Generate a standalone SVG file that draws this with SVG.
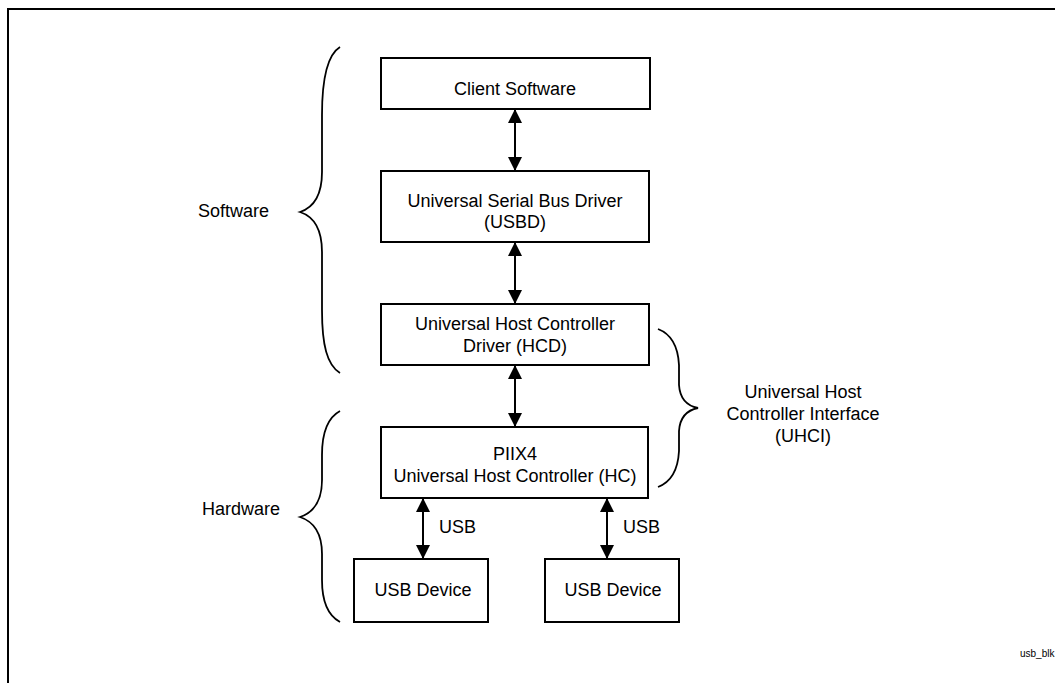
<svg xmlns="http://www.w3.org/2000/svg" width="1055" height="683" viewBox="0 0 1055 683">
<style>
.box{fill:#fff;stroke:#000;stroke-width:2}
.t{font-family:"Liberation Sans",Arial,sans-serif;font-size:18px;fill:#000;text-anchor:middle}
.ts{font-family:"Liberation Sans",Arial,sans-serif;font-size:18px;fill:#000}
.conn{stroke:#000;stroke-width:2;fill:none}
.brace{stroke:#000;stroke-width:1.8;fill:none}
</style>
<defs>
<marker id="ah" viewBox="0 0 14 14" refX="14" refY="7" markerWidth="14" markerHeight="14" markerUnits="userSpaceOnUse" orient="auto-start-reverse">
<path d="M0,0 L14,7 L0,14 z" fill="#000"/>
</marker>
</defs>
<rect width="1055" height="683" fill="#fff"/>
<path d="M8,683 V9 H1055" fill="none" stroke="#000" stroke-width="2"/>
<g id="connectors">
<line class="conn" x1="515" y1="109" x2="515" y2="171" marker-start="url(#ah)" marker-end="url(#ah)"/>
<line class="conn" x1="515" y1="242" x2="515" y2="304" marker-start="url(#ah)" marker-end="url(#ah)"/>
<line class="conn" x1="515" y1="365" x2="515" y2="427" marker-start="url(#ah)" marker-end="url(#ah)"/>
<line class="conn" x1="423" y1="498" x2="423" y2="559" marker-start="url(#ah)" marker-end="url(#ah)"/>
<line class="conn" x1="607" y1="498" x2="607" y2="559" marker-start="url(#ah)" marker-end="url(#ah)"/>
<text class="ts" x="439" y="533">USB</text>
<text class="ts" x="623" y="533">USB</text>
</g>
<g id="client">
<rect class="box" x="381" y="58" width="269" height="51"/>
<text class="t" x="515" y="95">Client Software</text>
</g>
<g id="usbd">
<rect class="box" x="381" y="171" width="268" height="71"/>
<text class="t" x="515" y="207">Universal Serial Bus Driver</text>
<text class="t" x="515" y="228">(USBD)</text>
</g>
<g id="hcd">
<rect class="box" x="381" y="304" width="268" height="61"/>
<text class="t" x="515" y="330">Universal Host Controller</text>
<text class="t" x="515" y="352">Driver (HCD)</text>
</g>
<g id="hc">
<rect class="box" x="381" y="427" width="267" height="71"/>
<text class="t" x="515" y="460">PIIX4</text>
<text class="t" x="515" y="482">Universal Host Controller (HC)</text>
</g>
<g id="dev1">
<rect class="box" x="354" y="559" width="134" height="63"/>
<text class="t" x="423" y="596">USB Device</text>
</g>
<g id="dev2">
<rect class="box" x="545" y="559" width="134" height="63"/>
<text class="t" x="613" y="596">USB Device</text>
</g>
<g id="software">
<path class="brace" d="M340,47 C327,55 322,80 322,115 V172 C322,198 312,208 300,212 C312,216 322,226 322,252 V310 C322,345 327,365 340,373"/>
<text class="ts" x="198" y="217">Software</text>
</g>
<g id="hardware">
<path class="brace" d="M340,411 C327,418 322,435 322,455 V480 C322,503 312,513 300,517 C312,521 322,531 322,554 V580 C322,600 327,615 340,622"/>
<text class="ts" x="202" y="515">Hardware</text>
</g>
<g id="uhci">
<path class="brace" d="M658,329 C671,334 678,345 679,365 V385 C680,400 688,406 698,408 C688,410 680,416 679,431 V451 C678,470 671,482 658,487"/>
<text class="t" x="803" y="398">Universal Host</text>
<text class="t" x="803" y="420">Controller Interface</text>
<text class="t" x="803" y="442">(UHCI)</text>
</g>
<text x="1020" y="657" font-family="Liberation Sans,Arial,sans-serif" font-size="10" fill="#000">usb_blk</text>
</svg>
